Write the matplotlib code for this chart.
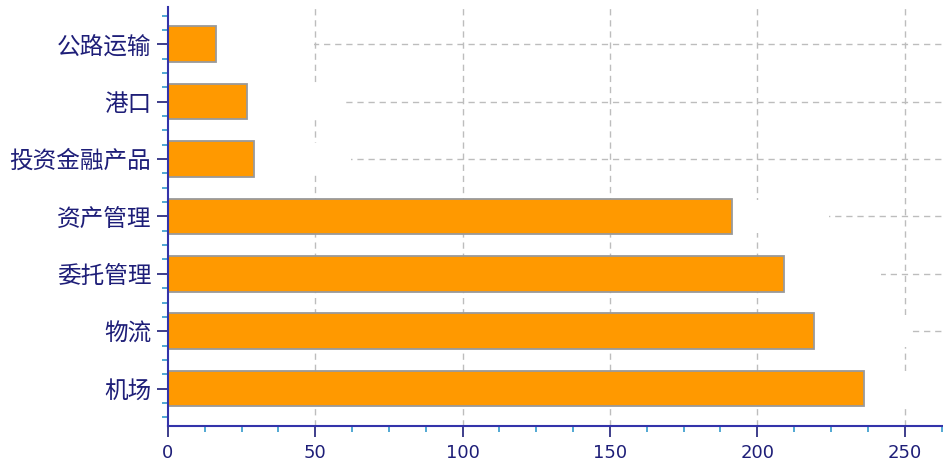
import matplotlib
matplotlib.use("Agg")
import matplotlib.pyplot as plt
from matplotlib.ticker import MultipleLocator

plt.rcParams['font.family'] = ['Noto Sans CJK SC', 'DejaVu Sans']

# 数据（从下往上）
categories = ['机场', '物流', '委托管理', '资产管理', '投资金融产品', '港口', '公路运输']
values = [236.3, 219.3, 209.0, 191.4, 29.1, 26.7, 16.5]

navy = '#1E1E78'
fig = plt.figure(figsize=(9.43, 4.62), dpi=100)
ax = fig.add_axes([0.178, 0.078, 0.822, 0.907])

pos = list(range(len(categories)))

# 网格
for x in [50, 100, 150, 200, 250]:
    ax.axvline(x, color='#BDBDBD', ls=(0, (4.5, 3.5)), lw=1, zorder=0)
for y in pos:
    ax.axhline(y, color='#BDBDBD', ls=(0, (4.5, 3.5)), lw=1, zorder=0)

# 数据标签留白区域（原图中标签位置遮住了网格线）
for y, v in zip(pos, values):
    ax.barh(y, 33, left=v, height=0.56, color='white', zorder=1)

ax.barh(pos, values, height=0.62, color='#FF9900', edgecolor='#9A9A9A',
        linewidth=1.3, zorder=2)

ax.set_xlim(0, 263)
ax.set_ylim(-0.65, 6.65)
ax.set_yticks(pos)
ax.set_yticklabels(categories, fontsize=17, color=navy)
ax.set_xticks([0, 50, 100, 150, 200, 250])
ax.set_xticklabels(['0', '50', '100', '150', '200', '250'],
                   fontsize=13, color=navy, family='DejaVu Sans')
ax.xaxis.set_minor_locator(MultipleLocator(12.5))
ax.yaxis.set_minor_locator(MultipleLocator(0.25))

ax.tick_params(which='major', length=8, width=1.2, color=navy)
ax.tick_params(which='minor', length=4, width=1.2, color='#3399CC')
ax.tick_params(axis='y', which='major', pad=4)
ax.tick_params(axis='x', which='major', pad=5)

for s in ['top', 'right']:
    ax.spines[s].set_visible(False)
for s in ['left', 'bottom']:
    ax.spines[s].set_color('#3333AA')
    ax.spines[s].set_linewidth(1.5)

fig.savefig('out.png', dpi=100)
